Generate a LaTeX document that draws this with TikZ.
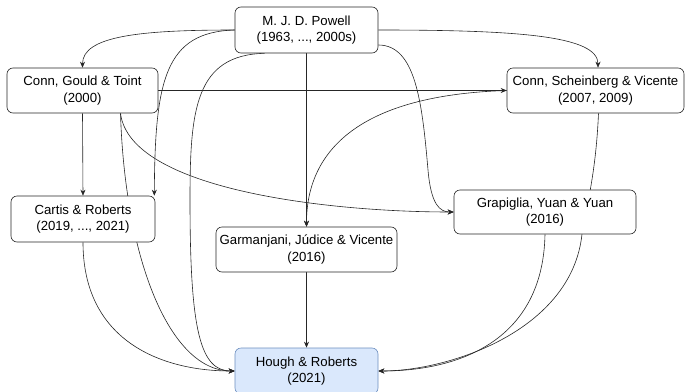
\documentclass[tikz,border=0pt]{standalone}
\usepackage{fontspec}
\setmainfont{Liberation Sans}
\usetikzlibrary{arrows.meta,backgrounds}
\definecolor{hfill}{HTML}{DAE8FC}
\definecolor{hdraw}{HTML}{6C8EBF}
\definecolor{ink}{HTML}{262626}
\begin{document}
\begin{tikzpicture}[x=1pt,y=-1pt,
  box/.style={draw=ink, fill=white, rounded corners=6pt, align=center, inner sep=0pt,
    font=\fontsize{13.2}{16.5}\selectfont, line width=0.6pt},
  conn/.style={draw=ink, line width=0.6pt, -{Stealth[length=6pt,width=5pt]}}]
\useasboundingbox (0,0) rectangle (685,391);
\node[box, minimum width=143pt, minimum height=46pt] (powell) at (306.5,30) {M. J. D. Powell\\(1963, ..., 2000s)};
\node[box, minimum width=151pt, minimum height=45pt] (cgt) at (82.5,90.5) {Conn, Gould \& Toint\\(2000)};
\node[box, minimum width=177pt, minimum height=45pt] (csv) at (595.5,90.5) {Conn, Scheinberg \& Vicente\\(2007, 2009)};
\node[box, minimum width=144pt, minimum height=46pt] (cartis) at (83,219) {Cartis \& Roberts\\(2019, ..., 2021)};
\node[box, minimum width=181pt, minimum height=45pt] (garm) at (306.5,249.5) {Garmanjani, Júdice \& Vicente\\(2016)};
\node[box, minimum width=182pt, minimum height=44pt] (grap) at (545,212) {Grapiglia, Yuan \& Yuan\\(2016)};
\node[box, draw=hdraw, fill=hfill, minimum width=143pt, minimum height=46pt] (hough) at (306.5,371) {Hough \& Roberts\\(2021)};
\begin{pgfonlayer}{background}
\draw[conn] (powell.west) .. controls (140,30) and (82.5,36) .. (cgt.north);
\draw[conn] (powell.east) .. controls (520,30) and (598,36) .. ([xshift=2.5pt]csv.north);
\draw[conn] (powell.west) .. controls (165,32) and (155,80) .. ([xshift=-1pt]cartis.north east);
\draw[conn] ([xshift=30pt]powell.south west) .. controls (195,55) and (190,110) .. (190,200)
  .. controls (190,330) and (200,371) .. (hough.west);
\draw[conn] (powell.south) -- (garm.north);
\draw[conn] ([yshift=-15pt]powell.east) .. controls (415,45) and (422,100) .. (428,170)
  .. controls (431,205) and (440,212) .. (grap.west);
\draw[conn] (cgt.east) -- (csv.west);
\draw[conn] (csv.west) .. controls (360,95) and (306.5,150) .. (garm.north);
\draw[conn] (cgt.south) -- (cartis.north);
\draw[conn] ([xshift=38pt]cgt.south) .. controls (130,190) and (330,212) .. (grap.west);
\draw[conn] ([xshift=38pt]cgt.south) .. controls (125,260) and (170,371) .. (hough.west);
\draw[conn] (cartis.south) .. controls (83,340) and (160,371) .. (hough.west);
\draw[conn] (garm.south) -- (hough.north);
\draw[conn] ([xshift=3pt]csv.south) .. controls (596,170) and (588,200) .. (582,234)
  .. controls (572,330) and (450,371) .. (hough.east);
\draw[conn] (grap.south) .. controls (543,340) and (460,371) .. (hough.east);
\end{pgfonlayer}
\end{tikzpicture}
\end{document}
